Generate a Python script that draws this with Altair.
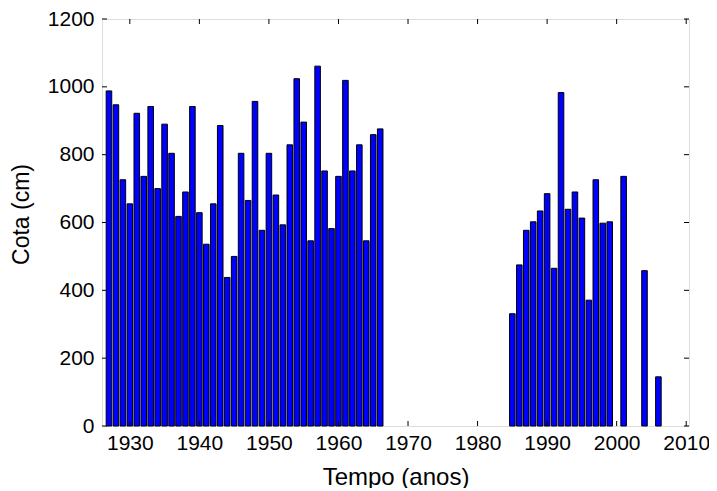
import altair as alt
import pandas as pd

years = list(range(1927, 1967)) + list(range(1985, 2000)) + [2001, 2004, 2006]
cota = [988, 947, 726, 655, 922, 736, 942, 700, 890, 804,
        618, 690, 942, 629, 536, 655, 886, 438, 500, 804,
        665, 957, 577, 804, 681, 593, 829, 1024, 896, 546,
        1061, 752, 582, 736, 1019, 752, 829, 546, 859, 876,
        331, 475, 577, 602, 634, 685, 465, 983, 639, 690,
        613, 371, 726, 598, 602,
        736, 458, 145]

x_ticks = [1930, 1940, 1950, 1960, 1970, 1980, 1990, 2000, 2010]
y_ticks = [0, 200, 400, 600, 800, 1000, 1200]

W, H = 587, 407
FONT = "Liberation Sans"

df = pd.DataFrame({"ano": years, "cota": cota})
xt = pd.DataFrame({"t": x_ticks})
yt = pd.DataFrame({"t": y_ticks})

xscale = alt.Scale(domain=[1926.0, 2010.4], nice=False, zero=False)
yscale = alt.Scale(domain=[0, 1200], nice=False)

bars = alt.Chart(df).transform_calculate(
    x0="datum.ano - 0.4", x1="datum.ano + 0.4", base="0"
).mark_bar(color="#0000FF", stroke="black", strokeWidth=1).encode(
    x=alt.X("x0:Q", scale=xscale,
            axis=alt.Axis(values=x_ticks, format="d", title="Tempo (anos)",
                          ticks=False, domain=False, grid=False,
                          labelFont=FONT, labelFontSize=21, labelColor="black",
                          labelPadding=6,
                          titleFont=FONT, titleFontSize=24, titleFontWeight="normal",
                          titleColor="black", titleY=58, titleBaseline="alphabetic")),
    x2="x1:Q",
    y=alt.Y("cota:Q", scale=yscale,
            axis=alt.Axis(values=y_ticks, format="d", title="Cota (cm)", ticks=False,
                          domain=False, grid=False,
                          labelFont=FONT, labelFontSize=21, labelColor="black",
                          labelPadding=8,
                          titleFont=FONT, titleFontSize=23, titleFontWeight="normal",
                          titleColor="black", titleX=-81, titleY=195,
                          titleBaseline="middle")),
    y2="base:Q",
)

tb = alt.Chart(xt).mark_rule(color="black", strokeWidth=1).encode(
    x=alt.X("t:Q", scale=xscale), y=alt.value(H), y2=alt.value(H - 5))
tt = alt.Chart(xt).mark_rule(color="black", strokeWidth=1).encode(
    x=alt.X("t:Q", scale=xscale), y=alt.value(0), y2=alt.value(5))
tl = alt.Chart(yt).mark_rule(color="black", strokeWidth=1).encode(
    y=alt.Y("t:Q", scale=yscale), x=alt.value(0), x2=alt.value(5))
tr = alt.Chart(yt).mark_rule(color="black", strokeWidth=1).encode(
    y=alt.Y("t:Q", scale=yscale), x=alt.value(W), x2=alt.value(W - 5))

chart = alt.layer(bars, tb, tt, tl, tr).properties(
    width=W, height=H,
    autosize=alt.AutoSizeParams(type="none"),
    padding={"left": 94, "top": 11, "right": 20, "bottom": 62},
).configure_view(stroke="black", strokeWidth=1.2).configure(background="white")

chart.save("out.html", embed_options={"renderer": "svg", "actions": False})
